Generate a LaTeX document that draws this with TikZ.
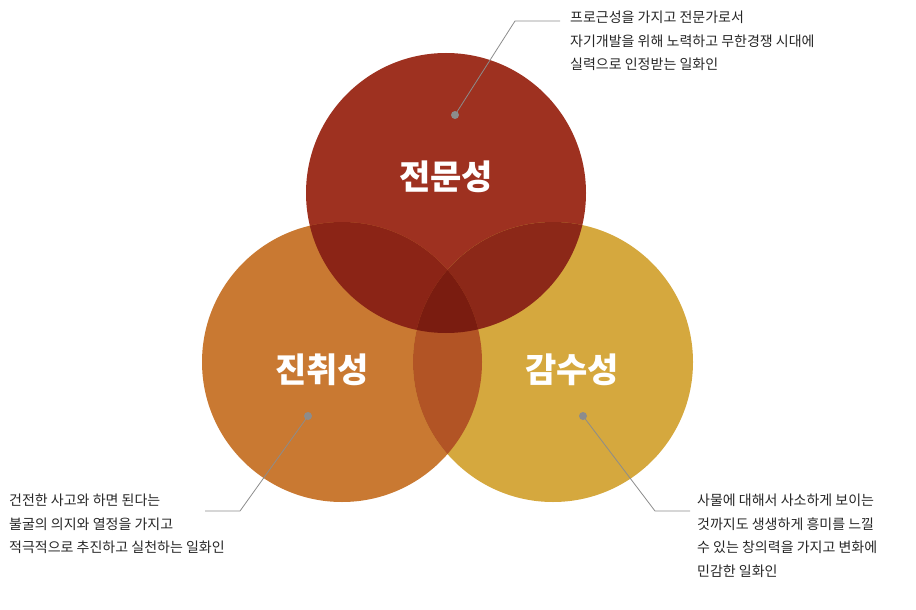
\documentclass[tikz,border=0pt]{standalone}
\usepackage{fontspec}
\setmainfont{Noto Sans CJK KR}
\newfontfamily\krb{Noto Sans CJK KR Bold}
\begin{document}
\begin{tikzpicture}[x=1pt,y=-1pt,
  title/.style={text=white,font=\fontsize{34}{40}\selectfont\bfseries},
  desc/.style={font=\fontsize{14}{23.5}\selectfont,text=black!85,align=left},
  lead/.style={draw=black!45,line width=0.8pt},
  dot/.style={circle,fill=black!45,inner sep=0pt,minimum size=8pt}]
\useasboundingbox (0,0) rectangle (916,610);
\def\R{140}
\coordinate (T) at (446,193);
\coordinate (L) at (342,362);
\coordinate (Rc) at (553,362);
\fill[color={rgb,255:red,158;green,49;blue,32}] (T) circle (\R);
\fill[color={rgb,255:red,201;green,121;blue,50}] (L) circle (\R);
\fill[color={rgb,255:red,213;green,168;blue,62}] (Rc) circle (\R);
\begin{scope}\clip (T) circle (\R);
 \fill[color={rgb,255:red,139;green,36;blue,22}] (L) circle (\R);
 \fill[color={rgb,255:red,140;green,40;blue,24}] (Rc) circle (\R);
\end{scope}
\begin{scope}\clip (L) circle (\R);
 \fill[color={rgb,255:red,178;green,84;blue,37}] (Rc) circle (\R);
 \clip (T) circle (\R);
 \fill[color={rgb,255:red,122;green,28;blue,16}] (Rc) circle (\R);
\end{scope}
\node[title] (tt) at (446,177) {전문성};
\node[title] (tl) at (322,370) {진취성};
\node[title] (tr) at (572,370) {감수성};
% leaders
\node[dot] (d1) at (455,115) {};
\coordinate (k1) at (515,21);
\coordinate (e1) at (560,21);
\draw[lead] (d1.center) -- (k1) -- (e1);
\node[desc,anchor=north west,inner sep=0pt] (x1) at (570,11) {프로근성을 가지고 전문가로서\\자기개발을 위해 노력하고 무한경쟁 시대에\\실력으로 인정받는 일화인};
\node[dot] (d2) at (308,416) {};
\coordinate (k2) at (240,511);
\coordinate (e2) at (205,511);
\draw[lead] (d2.center) -- (k2) -- (e2);
\node[desc,anchor=north west,inner sep=0pt] (x2) at (9,494) {건전한 사고와 하면 된다는\\불굴의 의지와 열정을 가지고\\적극적으로 추진하고 실천하는 일화인};
\node[dot] (d3) at (583,416) {};
\coordinate (k3) at (655,511);
\coordinate (e3) at (690,511);
\draw[lead] (d3.center) -- (k3) -- (e3);
\node[desc,anchor=north west,inner sep=0pt] (x3) at (697,494) {사물에 대해서 사소하게 보이는\\것까지도 생생하게 흥미를 느낄\\수 있는 창의력을 가지고 변화에\\민감한 일화인};
\end{tikzpicture}
\end{document}
